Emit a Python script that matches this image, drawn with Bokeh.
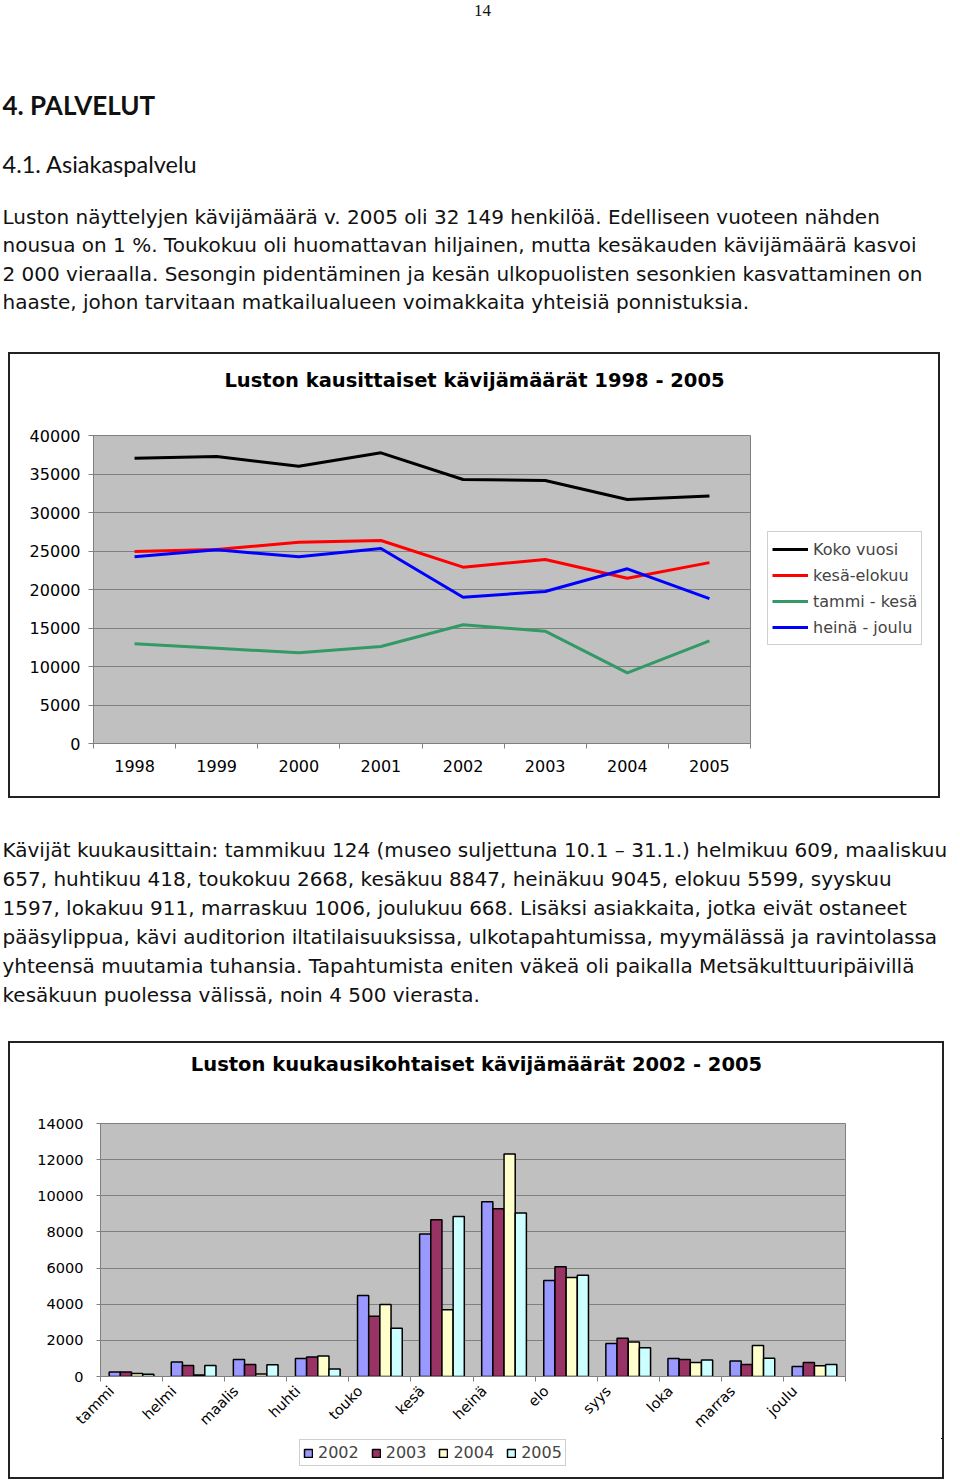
import math
from bokeh.plotting import figure
from bokeh.layouts import column, row
from bokeh.models import (Range1d, FixedTicker, NumeralTickFormatter, ColumnDataSource,
                          Legend, LegendItem, LinearAxis)
from bokeh.core.properties import value
from bokeh.embed import file_html
from bokeh.resources import INLINE

# ---------------- text content ----------------
PAGE_NO = "14"
HEADING = "4. PALVELUT"
SUBHEADING = "4.1. Asiakaspalvelu"
PARA1 = [
    "Luston näyttelyjen kävijämäärä v. 2005 oli 32 149 henkilöä. Edelliseen vuoteen nähden",
    "nousua on 1 %. Toukokuu oli huomattavan hiljainen, mutta kesäkauden kävijämäärä kasvoi",
    "2 000 vieraalla. Sesongin pidentäminen ja kesän ulkopuolisten sesonkien kasvattaminen on",
    "haaste, johon tarvitaan matkailualueen voimakkaita yhteisiä ponnistuksia.",
]
PARA2 = [
    "Kävijät kuukausittain: tammikuu 124 (museo suljettuna 10.1 – 31.1.) helmikuu 609, maaliskuu",
    "657, huhtikuu 418, toukokuu 2668, kesäkuu 8847, heinäkuu 9045, elokuu 5599, syyskuu",
    "1597, lokakuu 911, marraskuu 1006, joulukuu 668. Lisäksi asiakkaita, jotka eivät ostaneet",
    "pääsylippua, kävi auditorion iltatilaisuuksissa, ulkotapahtumissa, myymälässä ja ravintolassa",
    "yhteensä muutamia tuhansia. Tapahtumista eniten väkeä oli paikalla Metsäkulttuuripäivillä",
    "kesäkuun puolessa välissä, noin 4 500 vierasta.",
]

# ---------------- chart 1 data ----------------
CHART1_TITLE = "Luston kausittaiset kävijämäärät 1998 - 2005"
YEARS = ["1998", "1999", "2000", "2001", "2002", "2003", "2004", "2005"]
KOKO_VUOSI = [37050, 37270, 36010, 37750, 34290, 34160, 31690, 32149]
KESA_ELOKUU = [24940, 25190, 26140, 26360, 22900, 23900, 21470, 23491]
TAMMI_KESA = [12950, 12380, 11780, 12600, 15420, 14590, 9180, 13323]
HEINA_JOULU = [24250, 25150, 24250, 25320, 19000, 19740, 22690, 18826]
SERIES1_NAMES = ["Koko vuosi", "kesä-elokuu", "tammi - kesä", "heinä - joulu"]
SERIES1_COLORS = ["#000000", "#FF0000", "#339966", "#0000FF"]
Y1_TICKS = [0, 5000, 10000, 15000, 20000, 25000, 30000, 35000, 40000]

# ---------------- chart 2 data ----------------
CHART2_TITLE = "Luston kuukausikohtaiset kävijämäärät 2002 - 2005"
MONTHS = ["tammi", "helmi", "maalis", "huhti", "touko", "kesä", "heinä", "elo",
          "syys", "loka", "marras", "joulu"]
V2002 = [244, 800, 944, 1000, 4483, 7889, 9667, 5317, 1833, 1000, 856, 556]
V2003 = [244, 611, 667, 1078, 3333, 8667, 9278, 6078, 2111, 944, 667, 778]
V2004 = [167, 80, 133, 1133, 3983, 3689, 12317, 5483, 1911, 778, 1722, 594]
V2005 = [124, 609, 657, 418, 2668, 8847, 9045, 5599, 1597, 911, 1006, 668]
BAR_YEARS = ["2002", "2003", "2004", "2005"]
BAR_COLORS = ["#9999FF", "#993366", "#FFFFCC", "#CCFFFF"]
Y2_TICKS = [0, 2000, 4000, 6000, 8000, 10000, 12000, 14000]

BODY_FONT = "DejaVu Sans"
HEAD_FONT = "Lato"
CHART_FONT = "DejaVu Sans"
PAGE_W = 960
BOX_STYLE = {"border": "2px solid #222222"}


def text_fig(w, h):
    return figure(width=w, height=h, x_range=Range1d(0, w), y_range=Range1d(h, 0),
                  x_axis_type=None, y_axis_type=None, toolbar_location=None,
                  output_backend="svg", min_border=0, outline_line_color=None,
                  frame_align=False)


def legend_fig(w, h):
    # ranges lie away from all data, so the carrier renderers stay out of view
    return figure(width=w, height=h, x_range=Range1d(-2, -1), y_range=Range1d(-2, -1),
                  x_axis_type=None, y_axis_type=None, toolbar_location=None,
                  output_backend="svg", min_border=0, outline_line_color=None,
                  frame_align=False)


def body_lines(p, lines, y0, step, size="20px"):
    p.text(x=[2] * len(lines), y=[y0 + step * i for i in range(len(lines))], text=lines,
           text_font=value(BODY_FONT), text_font_size=size, text_baseline="middle",
           text_align="left", text_color="#111111")


# ---------------- top text ----------------
pa = text_fig(PAGE_W, 352)
pa.text(x=[482], y=[10], text=[PAGE_NO], text_font=value("Liberation Serif"),
        text_font_size="17px", text_align="center", text_baseline="middle", text_color="#111111")
pa.text(x=[2], y=[104], text=[HEADING], text_font=value(HEAD_FONT), text_font_style="bold",
        text_font_size="26px", text_baseline="middle", text_color="#111111")
pa.text(x=[2], y=[163], text=[SUBHEADING], text_font=value(HEAD_FONT),
        text_font_size="23.5px", text_baseline="middle", text_color="#111111")
body_lines(pa, PARA1, 216, 28.5)

# ---------------- chart 1 ----------------
t1 = text_fig(928, 50)
t1.text(x=[464], y=[26], text=[CHART1_TITLE], text_font=value(CHART_FONT), text_font_style="bold",
        text_font_size="19.5px", text_align="center", text_baseline="middle", text_color="#000000")

n1 = len(YEARS)
xpos1 = [i + 0.5 for i in range(n1)]
p1 = figure(frame_width=657, frame_height=308, min_border_left=83, min_border_right=1,
            min_border_top=31, min_border_bottom=53,
            x_range=Range1d(0, n1), y_range=Range1d(0, Y1_TICKS[-1]),
            toolbar_location=None, output_backend="svg", frame_align=False,
            background_fill_color="#C0C0C0", border_fill_color="white",
            outline_line_color="#808080")
series1 = [KOKO_VUOSI, KESA_ELOKUU, TAMMI_KESA, HEINA_JOULU]
for vals, col in zip(series1, SERIES1_COLORS):
    p1.line(x=xpos1, y=vals, line_color=col, line_width=3)

p1.xaxis.ticker = FixedTicker(ticks=xpos1, minor_ticks=list(range(n1 + 1)))
p1.xaxis.major_label_overrides = {x: y for x, y in zip(xpos1, YEARS)}
p1.xaxis.major_tick_line_color = None
p1.xaxis.minor_tick_line_color = "#808080"
p1.xaxis.minor_tick_out = 5
p1.xaxis.minor_tick_in = 0
p1.xaxis.major_label_standoff = 10
p1.yaxis.ticker = FixedTicker(ticks=Y1_TICKS)
p1.yaxis.formatter = NumeralTickFormatter(format="0")
p1.yaxis.major_tick_line_color = "#808080"
p1.yaxis.major_tick_out = 5
p1.yaxis.major_tick_in = 0
p1.yaxis.minor_tick_line_color = None
p1.yaxis.major_label_standoff = 8
for ax in (p1.xaxis, p1.yaxis):
    ax.axis_line_color = "#808080"
    ax.major_label_text_font = CHART_FONT
    ax.major_label_text_font_size = "16px"
    ax.major_label_text_color = "#000000"
p1.xgrid.visible = False
p1.ygrid.ticker = FixedTicker(ticks=Y1_TICKS)
p1.ygrid.grid_line_color = "#808080"
p1.ygrid.grid_line_width = 1

# legend panel for chart 1
lf1_w = 928 - (83 + 657 + 1)
lf1 = legend_fig(lf1_w, 392)
items1 = []
for vals, name, col in zip(series1, SERIES1_NAMES, SERIES1_COLORS):
    r = lf1.line(x=xpos1, y=vals, line_color=col, line_width=3)
    items1.append(LegendItem(label=name, renderers=[r]))
leg1 = Legend(items=items1, location=(16, 151), glyph_width=36, glyph_height=26, padding=4,
              spacing=0, margin=0, label_standoff=5, label_text_font=CHART_FONT,
              label_text_font_size="16px", border_line_color="#A0A0A0",
              background_fill_color="white", background_fill_alpha=1)
lf1.add_layout(leg1)

box1 = column(t1, row(p1, lf1, spacing=0), spacing=0, styles=BOX_STYLE, margin=(0, 0, 0, 8))

# ---------------- middle text ----------------
pb = text_fig(PAGE_W, 243)
body_lines(pb, PARA2, 51, 29)

# ---------------- chart 2 ----------------
t2 = text_fig(932, 50)
t2.text(x=[466], y=[21], text=[CHART2_TITLE], text_font=value(CHART_FONT), text_font_style="bold",
        text_font_size="19.5px", text_align="center", text_baseline="middle", text_color="#000000")

n2 = len(MONTHS)
centers2 = [i + 0.5 for i in range(n2)]
LABEL_SHIFT = 0.32  # rotated month labels sit left of the group centre, as in the original
p2 = figure(frame_width=745, frame_height=253, min_border_left=90, min_border_right=97,
            min_border_top=30, min_border_bottom=62,
            x_range=Range1d(0, n2), y_range=Range1d(0, Y2_TICKS[-1]),
            x_axis_location=None,
            toolbar_location=None, output_backend="svg", frame_align=False,
            background_fill_color="#C0C0C0", border_fill_color="white",
            outline_line_color="#808080")
p2.extra_x_ranges = {"lbl": Range1d(LABEL_SHIFT, n2 + LABEL_SHIFT)}
bw = 0.18
bar_series = [V2002, V2003, V2004, V2005]
for j, (vals, col) in enumerate(zip(bar_series, BAR_COLORS)):
    off = (j - 1.5) * bw
    src = ColumnDataSource(dict(x=[c + off for c in centers2], top=vals))
    p2.vbar(x="x", top="top", bottom=0, width=bw, source=src, fill_color=col,
            line_color="#000000", line_width=1.5)

xax2 = LinearAxis(x_range_name="lbl")
xax2.ticker = FixedTicker(ticks=centers2, minor_ticks=[b + LABEL_SHIFT for b in range(n2 + 1)])
xax2.major_label_overrides = {x: m for x, m in zip(centers2, MONTHS)}
xax2.major_tick_line_color = None
xax2.minor_tick_line_color = "#808080"
xax2.minor_tick_out = 5
xax2.minor_tick_in = 0
xax2.major_label_orientation = math.pi / 4
xax2.major_label_standoff = 6
p2.add_layout(xax2, "below")

p2.yaxis.ticker = FixedTicker(ticks=Y2_TICKS)
p2.yaxis.formatter = NumeralTickFormatter(format="0")
p2.yaxis.major_tick_line_color = "#808080"
p2.yaxis.major_tick_out = 4
p2.yaxis.major_tick_in = 0
p2.yaxis.minor_tick_line_color = None
p2.yaxis.major_label_standoff = 13
for ax in (xax2, p2.yaxis[0]):
    ax.axis_line_color = "#808080"
    ax.major_label_text_font = CHART_FONT
    ax.major_label_text_font_size = "14.5px"
    ax.major_label_text_color = "#000000"
for g in p2.xgrid:
    g.visible = False
p2.ygrid.ticker = FixedTicker(ticks=Y2_TICKS)
p2.ygrid.grid_line_color = "#808080"
p2.ygrid.grid_line_width = 1

# legend strip for chart 2
lf2 = legend_fig(932, 39)
items2 = []
for j, (vals, yr, col) in enumerate(zip(bar_series, BAR_YEARS, BAR_COLORS)):
    off = (j - 1.5) * bw
    r = lf2.vbar(x=[c + off for c in centers2], top=vals, bottom=0, width=bw, fill_color=col,
                 line_color="#000000", line_width=1.5)
    items2.append(LegendItem(label=yr, renderers=[r]))
leg2 = Legend(items=items2, location=(289, 11), orientation="horizontal", glyph_width=10,
              glyph_height=10, padding=3, spacing=12, margin=0, label_standoff=5,
              label_text_font=CHART_FONT, label_text_font_size="16px",
              border_line_color="#A0A0A0", background_fill_color="white",
              background_fill_alpha=1)
lf2.add_layout(leg2)

box2 = column(t2, p2, lf2, spacing=0, styles=BOX_STYLE, margin=(0, 0, 0, 8))

layout = column(pa, box1, pb, box2, spacing=0)
open("out.html", "w").write(file_html(layout, INLINE))
